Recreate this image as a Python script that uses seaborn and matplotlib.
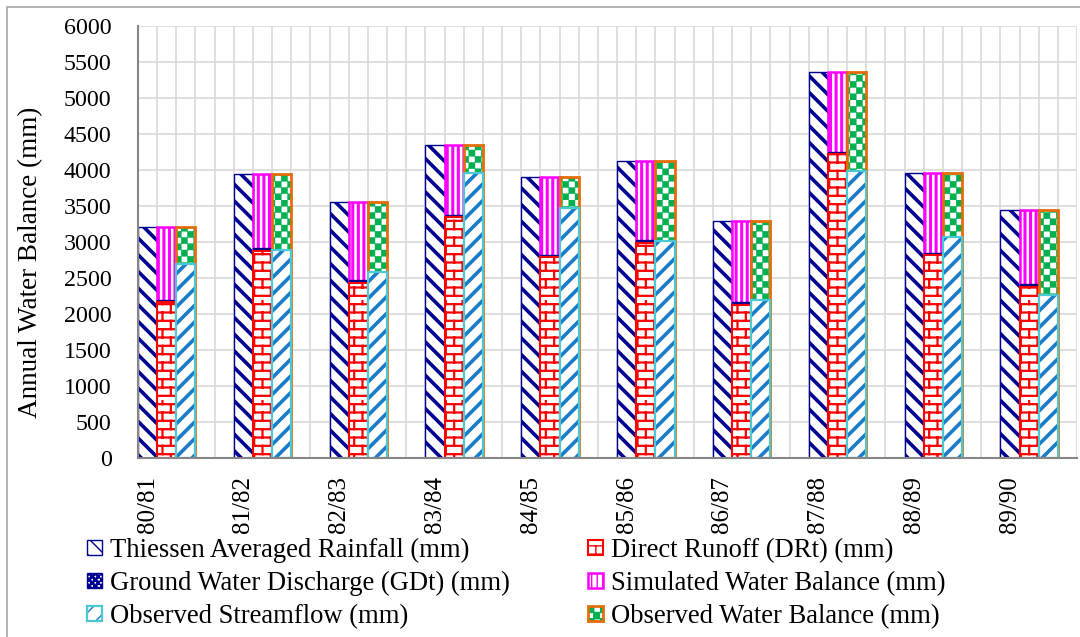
import warnings
import numpy as np
import matplotlib
matplotlib.use('Agg')
import matplotlib.pyplot as plt
import matplotlib.patches as mpatches
from matplotlib import hatch as mhatch
from matplotlib.path import Path
import seaborn as sns

# custom hatch letters ('b' bricks, 'c' checker) raise a deprecation warning only
warnings.filterwarnings('ignore')

# Data (mm)
seasons = ['80/81', '81/82', '82/83', '83/84', '84/85',
           '85/86', '86/87', '87/88', '88/89', '89/90']
rainfall = [3213, 3940, 3556, 4350, 3907, 4125, 3292, 5357, 3963, 3444]
direct_runoff = [2171, 2875, 2435, 3343, 2796, 2991, 2125, 4218, 2819, 2375]
gw_discharge = [23, 37, 37, 32, 23, 37, 46, 36, 24, 40]
sim_balance = [1019, 1028, 1084, 975, 1088, 1097, 1121, 1103, 1120, 1029]
obs_streamflow = [2690, 2889, 2588, 3963, 3468, 3020, 2194, 3990, 3074, 2264]
obs_balance = [523, 1051, 968, 387, 439, 1105, 1098, 1367, 889, 1180]

NAVY = '#000090'
RED = '#FF0000'
MAGENTA = '#FF00FF'
CYAN = '#4BC8D2'
BLUE = '#1A7BC9'
GREEN = '#00B050'
ORANGE = '#E46C0A'
GRID = '#D9D9D9'
AXIS = '#868686'


class BrickHatch(mhatch.HatchPatternBase):
    def __init__(self, hatch, density):
        self.rows = hatch.count('b') * density
        self.per_row = self.rows // 2
        self.num_vertices = 2 * (self.rows + self.rows * self.per_row)

    def set_vertices_and_codes(self, vertices, codes):
        n, k = self.rows, self.per_row
        segs = []
        for i in range(n):
            y0 = (i + 0.5) / n
            y1 = (i + 1.5) / n
            segs.append(((0.0, y0), (1.0, y0)))
            for j in range(k):
                x = (j + 0.25 + 0.5 * (i % 2)) / k
                segs.append(((x, y0), (x, y1)))
        vertices[:] = np.array(segs).reshape(-1, 2)
        codes[0::2] = Path.MOVETO
        codes[1::2] = Path.LINETO


class CheckerHatch(mhatch.HatchPatternBase):
    filled = True

    def __init__(self, hatch, density):
        self.cells = hatch.count('c') * 8
        self.num_vertices = (self.cells * self.cells // 2) * 5

    def set_vertices_and_codes(self, vertices, codes):
        n = self.cells
        if n == 0:
            return
        s = 1.0 / n
        squares = []
        for i in range(n):
            for j in range(n):
                if (i + j) % 2 == 0:
                    x0, y0 = i * s, j * s
                    squares.append([(x0, y0), (x0 + s, y0), (x0 + s, y0 + s),
                                    (x0, y0 + s), (x0, y0)])
        vertices[:] = np.array(squares).reshape(-1, 2)
        codes[:] = Path.LINETO
        codes[0::5] = Path.MOVETO
        codes[4::5] = Path.CLOSEPOLY


mhatch._hatch_types.extend([BrickHatch, CheckerHatch])


def style_patch(p, face, edge, hatch=None, lw=1.5, hatch_lw=1.0):
    p.set_facecolor(face)
    p.set_edgecolor(edge)
    p.set_linewidth(lw)
    p.set_hatch(hatch)
    if hasattr(p, 'set_hatch_linewidth'):
        p.set_hatch_linewidth(hatch_lw)


def draw_bars(ax, pos, heights, **style):
    n0 = len(ax.patches)
    sns.barplot(x=pos, y=heights, orient='x', native_scale=True, width=0.2,
                color='white', saturation=1, errorbar=None, ax=ax)
    for p in ax.patches[n0:]:
        style_patch(p, **style)


STYLES = {
    'rain': dict(face='white', edge=NAVY, hatch='\\\\', lw=1.0, hatch_lw=2.6),
    'dr': dict(face='white', edge=RED, hatch='bb', lw=1.5, hatch_lw=1.6),
    'gw': dict(face=NAVY, edge=NAVY, hatch=None, lw=1.0, hatch_lw=1.0),
    'sim': dict(face='white', edge=MAGENTA, hatch='|||', lw=1.8, hatch_lw=2.2),
    'sf': dict(face='white', edge=BLUE, hatch='//', lw=0, hatch_lw=2.6),
    'sf_edge': dict(face='none', edge=CYAN, hatch=None, lw=1.6),
    'obs': dict(face='white', edge=GREEN, hatch='cc', lw=0, hatch_lw=0.3),
    'obs_edge': dict(face='none', edge=ORANGE, hatch=None, lw=2.0),
}

sns.set_theme(style='white')
plt.rcParams['font.family'] = ['Liberation Serif', 'DejaVu Serif']
plt.rcParams['text.color'] = 'black'
plt.rcParams['axes.labelcolor'] = 'black'
plt.rcParams['xtick.color'] = 'black'
plt.rcParams['ytick.color'] = 'black'

fig = plt.figure(figsize=(10.8, 6.37), dpi=100)
ax = fig.add_axes([138 / 1080, 1 - 458 / 637, 939 / 1080, 432 / 637])
ax.set_axisbelow(True)

group_start = np.arange(len(seasons)) * 5
rain_arr = np.array(rainfall)
dr_arr = np.array(direct_runoff)
gw_arr = np.array(gw_discharge)
sim_arr = np.array(sim_balance)
sf_arr = np.array(obs_streamflow)
obs_arr = np.array(obs_balance)

# bar 1: rainfall
draw_bars(ax, group_start + 0.5, rain_arr, **STYLES['rain'])

# bar 2: DRt + GDt + simulated balance, drawn back to front
draw_bars(ax, group_start + 1.5, dr_arr + gw_arr + sim_arr, **STYLES['sim'])
draw_bars(ax, group_start + 1.5, dr_arr + gw_arr, **STYLES['gw'])
draw_bars(ax, group_start + 1.5, dr_arr, **STYLES['dr'])

# bar 3: observed streamflow + observed balance
draw_bars(ax, group_start + 2.5, sf_arr + obs_arr, **STYLES['obs'])
draw_bars(ax, group_start + 2.5, sf_arr + obs_arr, **STYLES['obs_edge'])
draw_bars(ax, group_start + 2.5, sf_arr, **STYLES['sf'])
draw_bars(ax, group_start + 2.5, sf_arr, **STYLES['sf_edge'])

# axes
ax.set_xlim(0, 49)
ax.set_ylim(0, 6000)
ax.set_yticks(np.arange(0, 6001, 500))
ax.set_xticks(group_start + 0.5)
ax.set_xticklabels(seasons, rotation=90, ha='center', va='top')
ax.set_xticks(np.arange(0, 50), minor=True)
ax.tick_params(axis='x', which='major', length=0, pad=13, labelsize=18,
               labelcolor='black')
ax.tick_params(axis='x', which='minor', length=5, width=1.5, color=AXIS, direction='out')
ax.tick_params(axis='y', length=5, width=1.5, color=AXIS, direction='out',
               pad=14, labelsize=17.3, labelcolor='black')
ax.yaxis.grid(True, color=GRID, lw=1.2)
ax.xaxis.grid(True, which='minor', color=GRID, lw=1.2)
ax.xaxis.grid(False, which='major')
for side in ['top', 'right']:
    ax.spines[side].set_visible(False)
for side in ['left', 'bottom']:
    ax.spines[side].set_color(AXIS)
    ax.spines[side].set_linewidth(1.5)
ax.set_xlabel('')
ax.set_ylabel('Annual Water Balance (mm)', fontsize=19.5, color='black')
ax.yaxis.set_label_coords(-0.101, 0.454)

# legend
def legend_patch(key):
    s = STYLES[key]
    p = mpatches.Patch()
    style_patch(p, **s)
    return p

handles = [
    legend_patch('rain'),
    legend_patch('gw'),
    (legend_patch('sf'), legend_patch('sf_edge')),
    legend_patch('dr'),
    legend_patch('sim'),
    (legend_patch('obs'), legend_patch('obs_edge')),
]
handles[1].set_facecolor('white')
handles[1].set_hatch('cccc')
labels = [
    'Thiessen Averaged Rainfall (mm)',
    'Ground Water Discharge (GDt) (mm)',
    'Observed Streamflow (mm)',
    'Direct Runoff (DRt) (mm)',
    'Simulated Water Balance (mm)',
    'Observed Water Balance (mm)',
]
fig.legend(handles, labels, ncol=2, loc='upper left',
           bbox_to_anchor=(87 / 1080, 1 - 538 / 637), frameon=False,
           fontsize=19.2, handlelength=0.55, handleheight=0.5,
           handletextpad=0.3, columnspacing=2.95, labelspacing=0.29,
           borderpad=0, borderaxespad=0)

# outer chart frame
fig.add_artist(mpatches.Rectangle((7 / 1080, -0.05), 1.1, 1.05 - 7 / 637,
                                  transform=fig.transFigure, fill=False,
                                  edgecolor='#A6A6A6', lw=1.2, clip_on=False))

fig.savefig('out.png', dpi=100)
plt.close(fig)
